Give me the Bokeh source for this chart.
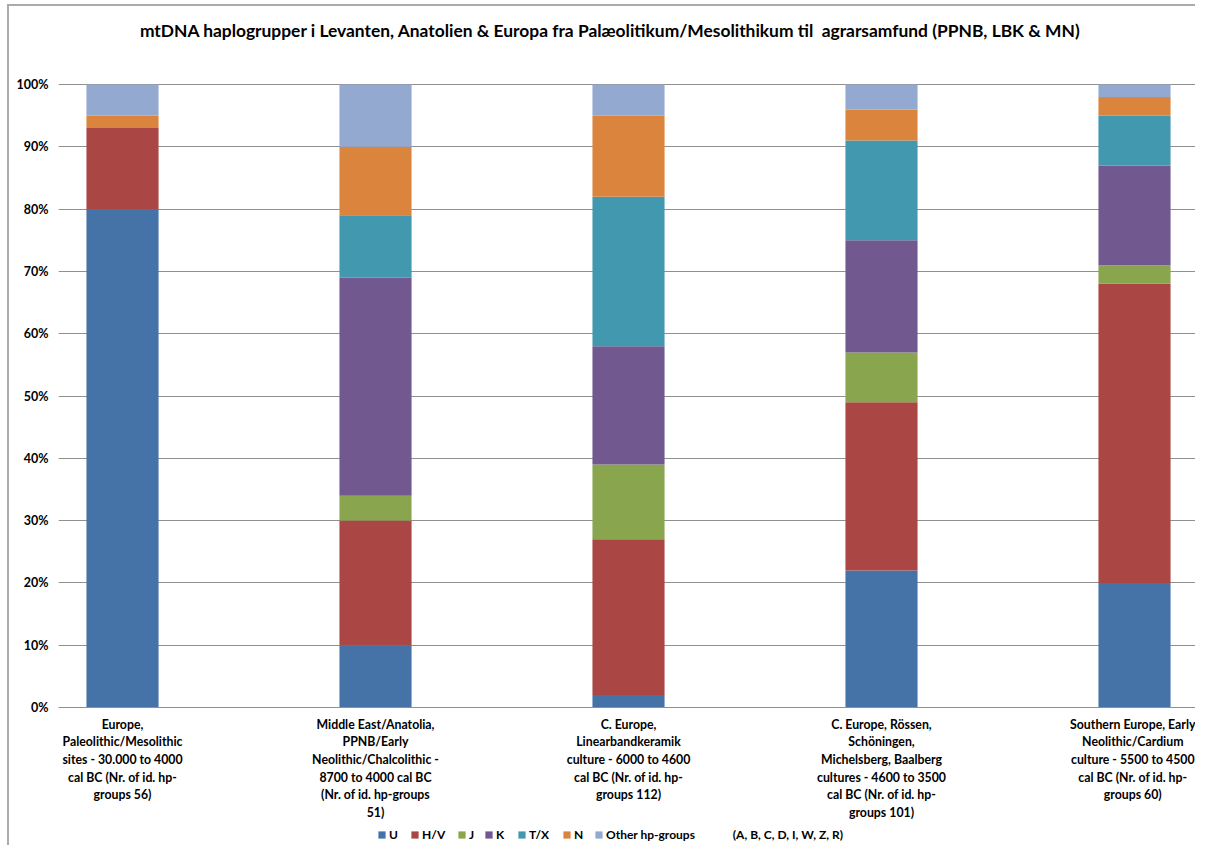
from bokeh.plotting import figure
from bokeh.models import ColumnDataSource, FixedTicker, NumeralTickFormatter, Legend, Label
from bokeh.embed import file_html
from bokeh.resources import INLINE

categories = [
    "Europe,\nPaleolithic/Mesolithic\nsites - 30.000 to 4000\ncal BC (Nr. of id. hp-\ngroups 56)",
    "Middle East/Anatolia,\nPPNB/Early\nNeolithic/Chalcolithic -\n8700 to 4000 cal BC\n(Nr. of id. hp-groups\n51)",
    "C. Europe,\nLinearbandkeramik\nculture - 6000 to 4600\ncal BC (Nr. of id. hp-\ngroups 112)",
    "C. Europe, Rössen,\nSchöningen,\nMichelsberg, Baalberg\ncultures - 4600 to 3500\ncal BC (Nr. of id. hp-\ngroups 101)",
    "Southern Europe, Early\nNeolithic/Cardium\nculture - 5500 to 4500\ncal BC (Nr. of id. hp-\ngroups 60)",
]
series_names = ["U", "H/V", "J", "K", "T/X", "N", "Other hp-groups"]
U = [80, 10, 2, 22, 20]
HV = [13, 20, 25, 27, 48]
J = [0, 4, 12, 8, 3]
K = [0, 35, 19, 18, 16]
TX = [0, 10, 24, 16, 8]
N = [2, 11, 13, 5, 3]
OTHER = [5, 10, 5, 4, 2]
y_ticks = [0, 0.1, 0.2, 0.3, 0.4, 0.5, 0.6, 0.7, 0.8, 0.9, 1.0]
title_text = "mtDNA haplogrupper i Levanten, Anatolien & Europa fra Palæolitikum/Mesolithikum til\u00a0 agrarsamfund (PPNB, LBK & MN)"
legend_extra = "\u00a0" * 13 + "(A, B, C, D, I, W, Z, R)"

colors = ["#4572A7", "#AA4643", "#89A54E", "#71588F", "#4198AF", "#DB843D", "#93A9CF"]
keys = ["U", "HV", "J", "K", "TX", "N", "OTHER"]
series = [U, HV, J, K, TX, N, OTHER]
legend_x = [319, 352, 399, 426, 459, 504, 536]

xs = list(range(len(categories)))
data = {"x": xs}
for k, s in zip(keys, series):
    data[k] = [v / 100 for v in s]
source = ColumnDataSource(data)

FONT = "Lato"

p = figure(width=1188, height=841, output_backend="svg", toolbar_location=None,
           x_range=(-0.253, 4.249), y_range=(-0.2247, 1.1252),
           min_border_left=49, min_border_right=0, min_border_top=0, min_border_bottom=0)
p.styles = {"margin-left": "7px", "margin-top": "4px",
            "border-left": "2px solid #ababab", "border-top": "2px solid #ababab"}

renderers = p.vbar_stack(keys, x="x", width=0.285, color=colors, source=source, line_width=0)

title = Label(x=1.929, y=1.0867, text=title_text, text_align="center", text_baseline="middle",
              text_font=FONT, text_font_size="17.4px", text_font_style="bold", text_color="#000000")
p.add_layout(title)

labels = list(series_names)
labels[-1] = series_names[-1] + legend_extra
for lab, r, lx in zip(labels, renderers, legend_x):
    lg = Legend(items=[(lab, [r])], orientation="horizontal", location=(lx, 5))
    lg.label_text_font = FONT
    lg.label_text_font_size = "12px"
    lg.label_text_font_style = "bold"
    lg.label_text_color = "#000000"
    lg.glyph_width = 9
    lg.glyph_height = 9
    lg.label_standoff = 3
    lg.spacing = 0
    lg.padding = 0
    lg.margin = 0
    lg.border_line_color = None
    lg.background_fill_alpha = 0
    p.add_layout(lg, "center")

p.xaxis.fixed_location = 0
p.xaxis.ticker = FixedTicker(ticks=xs)
p.xaxis.major_label_overrides = {i: c for i, c in enumerate(categories)}
p.xaxis.major_label_text_font = FONT
p.xaxis.major_label_text_font_size = "12.3px"
p.xaxis.major_label_text_font_style = "bold"
p.xaxis.major_label_text_color = "#000000"
p.xaxis.major_label_text_line_height = 1.18
p.xaxis.major_label_standoff = 9
p.xaxis.major_tick_out = 0
p.xaxis.major_tick_in = 0
p.xaxis.major_tick_line_color = None
p.xaxis.minor_tick_line_color = None
p.xaxis.axis_line_color = "#909090"

p.yaxis.ticker = FixedTicker(ticks=y_ticks)
p.yaxis.formatter = NumeralTickFormatter(format="0%")
p.yaxis.major_label_text_font = FONT
p.yaxis.major_label_text_font_size = "12.5px"
p.yaxis.major_label_text_font_style = "bold"
p.yaxis.major_label_text_color = "#000000"
p.yaxis.major_label_standoff = 10
p.yaxis.major_tick_out = 0
p.yaxis.major_tick_in = 0
p.yaxis.axis_line_color = None
p.yaxis.major_tick_line_color = None
p.yaxis.minor_tick_line_color = None

p.xgrid.grid_line_color = None
p.ygrid.grid_line_color = "#909090"
p.ygrid.grid_line_width = 1
p.outline_line_color = None

open("out.html", "w").write(file_html(p, INLINE))
